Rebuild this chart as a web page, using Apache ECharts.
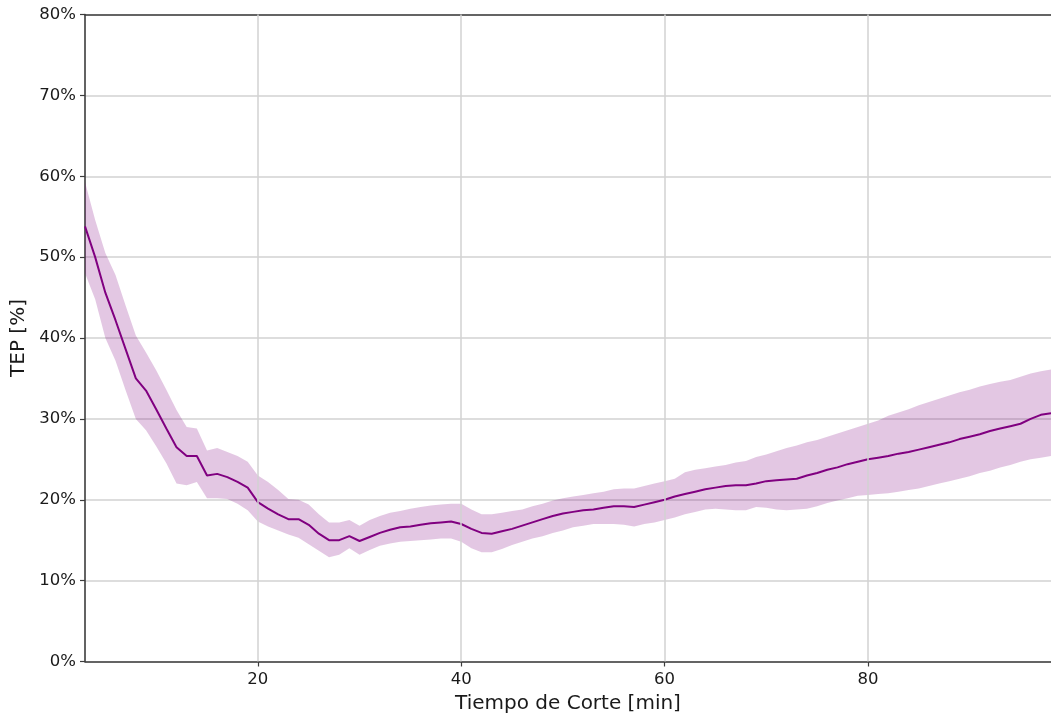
<!DOCTYPE html>
<html>
<head>
<meta charset="utf-8">
<script src="https://cdn.jsdelivr.net/npm/echarts@6/dist/echarts.min.js"></script>
<style>
  html, body { margin: 0; padding: 0; background: #ffffff; }
  #chart { width: 1051px; height: 715px; }
</style>
</head>
<body>
<div id="chart"></div>
<script>
// Cutting time (minutes)
const minutes = [
  3, 4, 5, 6, 7, 8, 9, 10, 11, 12, 13, 14, 15, 16, 17, 18, 19, 20,
  21, 22, 23, 24, 25, 26, 27, 28, 29, 30, 31, 32, 33, 34, 35, 36, 37, 38, 39, 40,
  41, 42, 43, 44, 45, 46, 47, 48, 49, 50, 51, 52, 53, 54, 55, 56, 57, 58, 59, 60,
  61, 62, 63, 64, 65, 66, 67, 68, 69, 70, 71, 72, 73, 74, 75, 76, 77, 78, 79, 80,
  81, 82, 83, 84, 85, 86, 87, 88, 89, 90, 91, 92, 93, 94, 95, 96, 97, 98
];

// Mean TEP [%]
const tepMean = [
  53.8, 50.0, 45.6, 42.2, 38.6, 35.0, 33.5, 31.2, 28.8, 26.5, 25.4, 25.4, 23.0, 23.2, 22.8, 22.2, 21.5, 19.7,
  18.9, 18.2, 17.6, 17.6, 16.9, 15.8, 15.0, 15.0, 15.5, 14.9, 15.4, 15.9, 16.3, 16.6, 16.7, 16.9, 17.1, 17.2, 17.3, 17.0,
  16.4, 15.9, 15.8, 16.1, 16.4, 16.8, 17.2, 17.6, 18.0, 18.3, 18.5, 18.7, 18.8, 19.0, 19.2, 19.2, 19.1, 19.4, 19.7, 20.0,
  20.4, 20.7, 21.0, 21.3, 21.5, 21.7, 21.8, 21.8, 22.0, 22.3, 22.4, 22.5, 22.6, 23.0, 23.3, 23.7, 24.0, 24.4, 24.7, 25.0,
  25.2, 25.4, 25.7, 25.9, 26.2, 26.5, 26.8, 27.1, 27.5, 27.8, 28.1, 28.5, 28.8, 29.1, 29.4, 30.0, 30.5, 30.7
];

// Upper edge of the uncertainty band [%]
const tepUpper = [
  59.3, 54.6, 50.5, 47.8, 44.0, 40.3, 38.2, 36.0, 33.6, 31.1, 29.0, 28.8, 26.1, 26.4, 25.9, 25.4, 24.7, 23.0,
  22.2, 21.2, 20.1, 20.0, 19.4, 18.2, 17.2, 17.2, 17.5, 16.8, 17.5, 18.0, 18.4, 18.6, 18.9, 19.1, 19.3, 19.4, 19.5, 19.5,
  18.8, 18.2, 18.2, 18.4, 18.6, 18.8, 19.2, 19.5, 19.9, 20.2, 20.4, 20.6, 20.8, 21.0, 21.3, 21.4, 21.4, 21.7, 22.0, 22.3,
  22.6, 23.4, 23.7, 23.9, 24.1, 24.3, 24.6, 24.8, 25.3, 25.6, 26.0, 26.4, 26.7, 27.1, 27.4, 27.8, 28.2, 28.6, 29.0, 29.4,
  29.8, 30.4, 30.8, 31.2, 31.7, 32.1, 32.5, 32.9, 33.3, 33.6, 34.0, 34.3, 34.6, 34.8, 35.2, 35.6, 35.9, 36.1
];

// Lower edge of the uncertainty band [%]
const tepLower = [
  48.0, 44.8, 40.0, 37.2, 33.5, 30.0, 28.6, 26.6, 24.5, 22.0, 21.8, 22.2, 20.2, 20.2, 20.1, 19.5, 18.7, 17.3,
  16.7, 16.2, 15.7, 15.3, 14.5, 13.7, 12.9, 13.2, 14.0, 13.2, 13.8, 14.3, 14.6, 14.8, 14.9, 15.0, 15.1, 15.2, 15.2, 14.8,
  14.0, 13.5, 13.5, 13.9, 14.4, 14.8, 15.2, 15.5, 15.9, 16.2, 16.6, 16.8, 17.0, 17.0, 17.0, 16.9, 16.7, 17.0, 17.2, 17.5,
  17.8, 18.2, 18.5, 18.8, 18.9, 18.8, 18.7, 18.7, 19.1, 19.0, 18.8, 18.7, 18.8, 18.9, 19.2, 19.6, 19.9, 20.2, 20.5, 20.6,
  20.7, 20.8, 21.0, 21.2, 21.4, 21.7, 22.0, 22.3, 22.6, 22.9, 23.3, 23.6, 24.0, 24.3, 24.7, 25.0, 25.2, 25.4
];

// Tick positions
const xTicks = [20, 40, 60, 80];

const FONT = 'DejaVu Sans';
const TEXT = '#1a1a1a';
const SPINE = '#3c3c3c';
const GRID = '#d2d2d2';
const PURPLE = '#800080';

const meanData = minutes.map((m, i) => [m, tepMean[i]]);
const bandData = minutes.map((m, i) => [m, tepLower[i], tepUpper[i]]);

// Draws the whole band as one polygon: upper edge left to right, lower edge back
function renderBand(params, api) {
  if (params.dataIndex !== 0) return null;
  const pts = [];
  for (let i = 0; i < minutes.length; i++) pts.push(api.coord([minutes[i], tepUpper[i]]));
  for (let i = minutes.length - 1; i >= 0; i--) pts.push(api.coord([minutes[i], tepLower[i]]));
  return {
    type: 'polygon',
    shape: { points: pts },
    style: { fill: 'rgba(128,0,128,0.22)', stroke: 'none' },
    silent: true
  };
}

const chart = echarts.init(document.getElementById('chart'), null, { renderer: 'canvas' });

chart.setOption({
  animation: false,
  backgroundColor: '#ffffff',
  grid: { left: 85, right: 0, top: 14.5, bottom: 53.5, containLabel: false, outerBoundsMode: 'none' },
  xAxis: [
    {
      type: 'value',
      min: 3,
      max: 98,
      name: 'Tiempo de Corte [min]',
      nameLocation: 'middle',
      nameGap: 27,
      nameTextStyle: { fontFamily: FONT, fontSize: 20, color: TEXT },
      axisLine: { show: true, onZero: false, lineStyle: { color: SPINE, width: 1.6 } },
      axisTick: { show: true, inside: false, length: 5, customValues: xTicks, lineStyle: { color: SPINE, width: 1.2 } },
      axisLabel: {
        show: true, customValues: xTicks, margin: 10,
        fontFamily: FONT, fontSize: 16.5, color: TEXT
      },
      splitLine: { show: false }
    },
    {
      type: 'value',
      position: 'top',
      min: 3,
      max: 98,
      axisLine: { show: true, onZero: false, lineStyle: { color: SPINE, width: 1.6 } },
      axisTick: { show: false },
      axisLabel: { show: false },
      splitLine: { show: false }
    }
  ],
  yAxis: {
    type: 'value',
    min: 0,
    max: 80,
    interval: 10,
    name: 'TEP [%]',
    nameLocation: 'middle',
    nameGap: 55,
    nameTextStyle: { fontFamily: FONT, fontSize: 20, color: TEXT },
    axisLine: { show: true, lineStyle: { color: SPINE, width: 1.6 } },
    axisTick: { show: true, inside: false, length: 5, lineStyle: { color: SPINE, width: 1.2 } },
    axisLabel: {
      margin: 9, fontFamily: FONT, fontSize: 16.5, color: TEXT,
      formatter: v => v + '%'
    },
    splitLine: { show: true, lineStyle: { color: GRID, width: 1.5 } }
  },
  series: [
    {
      // vertical grid lines at the labelled minutes
      type: 'line',
      data: [],
      silent: true,
      z: 1,
      markLine: {
        silent: true,
        symbol: 'none',
        label: { show: false },
        lineStyle: { color: GRID, width: 1.5, type: 'solid' },
        data: xTicks.map(t => ({ xAxis: t }))
      }
    },
    {
      name: 'band',
      type: 'custom',
      data: bandData,
      encode: { x: 0, y: [1, 2] },
      renderItem: renderBand,
      silent: true,
      z: 2
    },
    {
      name: 'TEP',
      type: 'line',
      data: meanData,
      symbol: 'none',
      lineStyle: { color: PURPLE, width: 2 },
      z: 3
    }
  ]
});
</script>
</body>
</html>
